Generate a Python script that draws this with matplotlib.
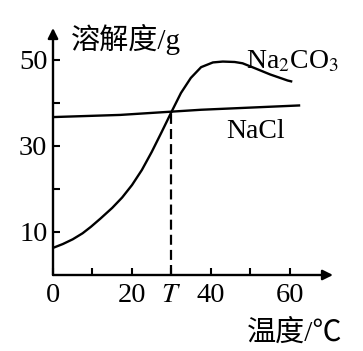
import numpy as np
import matplotlib
matplotlib.use("Agg")
import matplotlib.pyplot as plt

plt.rcParams['font.family'] = ['Liberation Serif', 'Noto Sans CJK SC', 'DejaVu Sans']
plt.rcParams['mathtext.fontset'] = 'stix'

# solubility curves (temperature in C, solubility in g)
na2co3_t = [0, 2.5, 5, 7.5, 9.6, 12, 15, 17.5, 20, 22.5, 25, 27.5, 30,
            32.4, 34.9, 37.5, 40.5, 43, 46, 48, 51, 55, 59.4, 60.3]
na2co3_s = [6.3, 7.2, 8.3, 9.7, 11.2, 13.1, 15.6, 18.0, 20.9, 24.4, 28.6, 33.2, 37.9,
            42.3, 45.8, 48.3, 49.4, 49.6, 49.5, 49.2, 48.1, 46.6, 45.2, 45.0]
nacl_t = [0, 17, 37.5, 62.3]
nacl_s = [36.7, 37.2, 38.4, 39.4]
T = 30
T_s = 38.0

xticks = [0, 10, 20, 30, 40, 50, 60]
xlabels = ['0', '', '20', '$T$', '40', '', '60']
yticks = [10, 20, 30, 40, 50]
ylabels = ['10', '', '30', '', '50']

fig = plt.figure(figsize=(3.63, 3.51), dpi=100)
W, H = 363, 351
ax = fig.add_axes([53 / W, 1 - 275 / H, 280 / W, 247 / H])
ax.set_xlim(0, 70.9)
ax.set_ylim(0, 57.4)

ax.plot(na2co3_t, na2co3_s, color='black', lw=1.7, solid_joinstyle='round')
ax.plot(nacl_t, nacl_s, color='black', lw=1.7)
ax.plot([T, T], [0, T_s], color='black', lw=1.6, dashes=(4.5, 2.3))

for s in ['top', 'right', 'left', 'bottom']:
    ax.spines[s].set_visible(False)
arrow = dict(arrowstyle='-|>', lw=1.7, color='black', mutation_scale=15, shrinkA=0, shrinkB=0)
ax.annotate('', xy=(1, 0), xytext=(0, 0), xycoords='axes fraction', arrowprops=arrow, annotation_clip=False)
ax.annotate('', xy=(0, 1), xytext=(0, 0), xycoords='axes fraction', arrowprops=arrow, annotation_clip=False)

ax.set_xticks(xticks, xlabels)
ax.set_yticks(yticks, ylabels)
ax.tick_params(direction='in', length=5, width=1.5, labelsize=20.5, colors='black')
ax.tick_params(axis='x', pad=6)
ax.tick_params(axis='y', pad=4)

fig.text(126 / W, 1 - 39 / H, '溶解度/g', fontsize=21, ha='center', va='center')
fig.text(295 / W, 1 - 333 / H, '温度/℃', fontsize=21, ha='center', va='center')
fig.text(246 / W, 1 - 68 / H, 'Na$_2$CO$_3$', fontsize=20, ha='left', va='baseline')
fig.text(226 / W, 1 - 138 / H, 'NaCl', fontsize=20, ha='left', va='baseline')

fig.savefig('out.png', dpi=100)
